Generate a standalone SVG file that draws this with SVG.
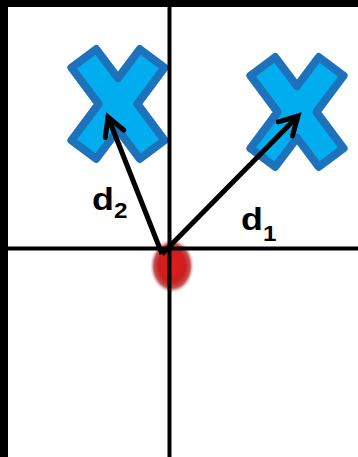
<svg xmlns="http://www.w3.org/2000/svg" width="358" height="457" viewBox="0 0 358 457">
  <style>
    .axis { stroke: #000; stroke-width: 4; }
    .xmark { fill: #00aeef; stroke: #1d72bb; stroke-width: 8; stroke-linejoin: round; }
    .vec { stroke: #000; stroke-width: 5; fill: none; marker-end: url(#head); }
    .lbl { font-family: "Liberation Sans", Arial, sans-serif; font-weight: bold; fill: #000; }
  </style>
  <defs>
    <polygon id="xshape" points="0,-25.8 21.8,-54.9 46.6,-36.3 19.4,0 46.6,36.3 21.8,54.9 0,25.8 -21.8,54.9 -46.6,36.3 -19.4,0 -46.6,-36.3 -21.8,-54.9"/>
    <radialGradient id="dot" cx="0.5" cy="0.5" r="0.5">
      <stop offset="0" stop-color="#e01e1e"/>
      <stop offset="0.6" stop-color="#cf1c1c"/>
      <stop offset="0.82" stop-color="#b02a2a" stop-opacity="0.8"/>
      <stop offset="1" stop-color="#e8a0a0" stop-opacity="0"/>
    </radialGradient>
    <marker id="head" markerUnits="userSpaceOnUse" markerWidth="30" markerHeight="30" refX="0" refY="0" viewBox="-24 -15 30 30" orient="auto" overflow="visible">
      <path d="M-18,-10 L0,0 L-18,10" fill="none" stroke="#000" stroke-width="5" stroke-linejoin="miter" stroke-linecap="round"/>
    </marker>
  </defs>
  <rect x="0" y="0" width="358" height="457" fill="#fff"/>
  <g id="origin">
    <ellipse cx="172" cy="266" rx="22" ry="27" fill="url(#dot)"/>
  </g>
  <g id="target2">
    <use href="#xshape" class="xmark" transform="translate(118,104)"/>
  </g>
  <g id="target1">
    <use href="#xshape" class="xmark" transform="translate(297,112)"/>
  </g>
  <g id="axes">
    <line class="axis" x1="169.5" y1="7" x2="169.5" y2="457"/>
    <line class="axis" x1="8" y1="248.5" x2="358" y2="248.5"/>
  </g>
  <g id="connectors">
    <line class="vec" x1="162" y1="254" x2="108" y2="117"/>
    <line class="vec" x1="162" y1="254" x2="298" y2="116"/>
  </g>
  <g id="labels">
    <text class="lbl" font-size="32" transform="translate(92,210) scale(1.12,1)">d</text>
    <text class="lbl" font-size="22" transform="translate(114,218) scale(1.1,1)">2</text>
    <text class="lbl" font-size="32" transform="translate(241,230) scale(1.12,1)">d</text>
    <text class="lbl" font-size="22" transform="translate(263,241) scale(1.1,1)">1</text>
  </g>
  <g id="frame">
    <rect x="0" y="0" width="358" height="7" fill="#000"/>
    <rect x="0" y="0" width="8" height="457" fill="#000"/>
  </g>
</svg>
